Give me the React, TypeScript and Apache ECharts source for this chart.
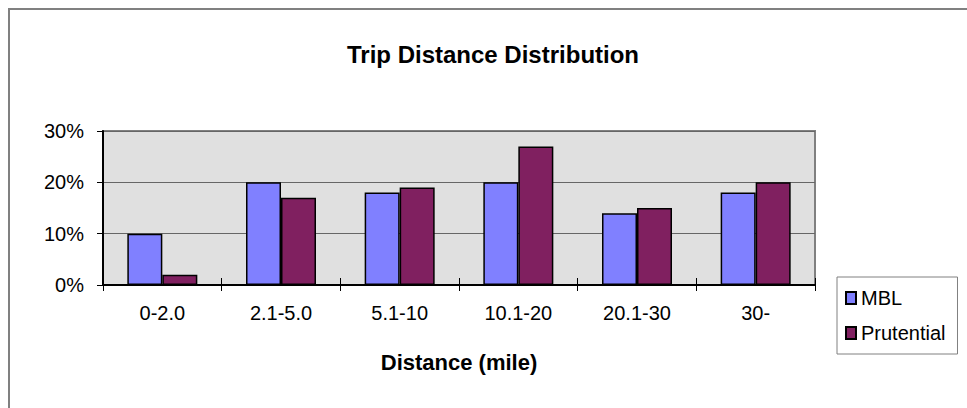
import React, { useEffect, useRef } from "react";
import * as echarts from "echarts";

const categories = ["0-2.0", "2.1-5.0", "5.1-10", "10.1-20", "20.1-30", "30-"];
const mblValues = [10, 20, 18, 20, 14, 18];
const prutentialValues = [2, 17, 19, 27, 15, 20];
const seriesNames = ["MBL", "Prutential"];
const titleText = "Trip Distance Distribution";
const xAxisTitle = "Distance (mile)";

const FONT = "Arial, 'Liberation Sans', sans-serif";

export default function App() {
  const ref = useRef<HTMLDivElement>(null);
  useEffect(() => {
    if (!ref.current) return;
    const chart = echarts.init(ref.current, null, { renderer: "svg" });
    chart.setOption({
      animation: false,
      backgroundColor: "#ffffff",
      textStyle: { fontFamily: FONT },
      graphic: [
        {
          type: "rect",
          shape: { x: 9, y: 9, width: 980, height: 420 },
          style: { fill: "none", stroke: "#808080", lineWidth: 2 },
          silent: true,
          z: -10,
        },
        {
          type: "text",
          x: 493,
          y: 54,
          style: {
            text: titleText,
            fontFamily: FONT,
            fontSize: 24,
            fontWeight: "bold",
            fill: "#000",
            textAlign: "center",
            textVerticalAlign: "middle",
          },
        },
      ],
      grid: {
        left: 103,
        right: 152,
        top: 131,
        bottom: 123,
        show: true,
        backgroundColor: "#e0e0e0",
        borderColor: "#808080",
        borderWidth: 2,
      },
      legend: {
        orient: "vertical",
        left: 837,
        top: 277,
        width: 124,
        data: seriesNames,
        backgroundColor: "#ffffff",
        borderColor: "#808080",
        borderWidth: 1,
        padding: [11, 12, 11, 8],
        itemWidth: 10,
        itemHeight: 12,
        itemGap: 15,
        textStyle: { fontSize: 20, color: "#000", fontFamily: FONT, padding: [0, 0, 0, 0] },
        icon: "rect",
      },
      xAxis: [
        {
          type: "category",
          data: categories,
          position: "bottom",
          axisLine: { show: true, lineStyle: { color: "#000", width: 2 } },
          axisTick: { show: true, length: 6, lineStyle: { color: "#000", width: 1 } },
          axisLabel: { fontSize: 20, color: "#000", margin: 18, fontFamily: FONT },
          name: xAxisTitle,
          nameLocation: "middle",
          nameGap: 66,
          nameTextStyle: { fontSize: 22, fontWeight: "bold", color: "#000", fontFamily: FONT },
          splitLine: { show: false },
          z: 5,
        },
        {
          type: "category",
          data: categories,
          position: "bottom",
          axisLine: { show: false },
          axisTick: { show: true, inside: true, length: 7, lineStyle: { color: "#000", width: 1 } },
          axisLabel: { show: false },
          splitLine: { show: false },
        },
      ],
      yAxis: {
        type: "value",
        min: 0,
        max: 30,
        interval: 10,
        axisLine: { show: true, lineStyle: { color: "#000", width: 2 } },
        axisTick: { show: true, length: 6, lineStyle: { color: "#000", width: 1 } },
        axisLabel: { formatter: "{value}%", fontSize: 20, color: "#000", margin: 19, fontFamily: FONT },
        splitLine: { show: true, lineStyle: { color: "#666666", width: 1 } },
      },
      series: [
        {
          name: seriesNames[0],
          type: "bar",
          data: mblValues,
          barWidth: 35,
          barGap: "0%",
          itemStyle: { color: "#8080ff", borderColor: "#000", borderWidth: 1.5 },
        },
        {
          name: seriesNames[1],
          type: "bar",
          data: prutentialValues,
          barWidth: 35,
          barGap: "0%",
          itemStyle: { color: "#802060", borderColor: "#000", borderWidth: 1.5 },
        },
      ],
    });
    return () => chart.dispose();
  }, []);
  return (
    <div
      ref={ref}
      style={{ position: "fixed", left: 0, top: 0, width: 967, height: 408 }}
    />
  );
}
